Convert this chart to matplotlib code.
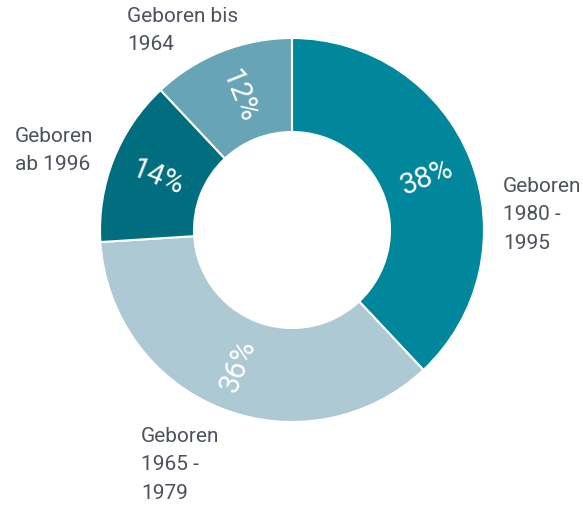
import matplotlib.pyplot as plt
import numpy as np

# Anteile (Uhrzeigersinn ab 12 Uhr)
shares = [38, 36, 14, 12]
pct_labels = ['38%', '36%', '14%', '12%']
names = ['Geboren\n1980 -\n1995', 'Geboren\n1965 -\n1979', 'Geboren\nab 1996', 'Geboren bis\n1964']
colors = ['#00879b', '#adc9d4', '#006e7f', '#67a5b6']

W, H = 583, 506
cx, cy = 292, H - 231
r_out, r_in = 192, 98

fig = plt.figure(figsize=(W / 100, H / 100), dpi=100)
ax = fig.add_axes([0, 0, 1, 1])

wedges, _ = ax.pie(shares, colors=colors, startangle=90, counterclock=False,
                   radius=r_out, center=(cx, cy), frame=True,
                   wedgeprops=dict(width=r_out - r_in, edgecolor='white', linewidth=1.5))
ax.set_xlim(0, W)
ax.set_ylim(0, H)
ax.axis('off')

# Prozentwerte radial im Ring
r_mid = (r_out + r_in) / 2
for w, lab in zip(wedges, pct_labels):
    mid = (w.theta1 + w.theta2) / 2
    x = cx + r_mid * np.cos(np.radians(mid))
    y = cy + r_mid * np.sin(np.radians(mid))
    rot = (mid + 180) % 360 - 180
    if rot > 90:
        rot -= 180
    elif rot < -90:
        rot += 180
    ax.text(x, y, lab, rotation=rot, rotation_mode='anchor', ha='center', va='center',
            color='white', fontsize=21, family='Roboto')

# Beschriftungen außen (Pixelposition oben links)
name_pos = [(503, 177), (141, 427), (15, 127), (127, 7)]
for txt, (px, py) in zip(names, name_pos):
    ax.text(px, H - py, txt, ha='left', va='top', color='#4d525c',
            fontsize=15, family='Roboto', linespacing=1.62)

fig.savefig('out.png', dpi=100)
